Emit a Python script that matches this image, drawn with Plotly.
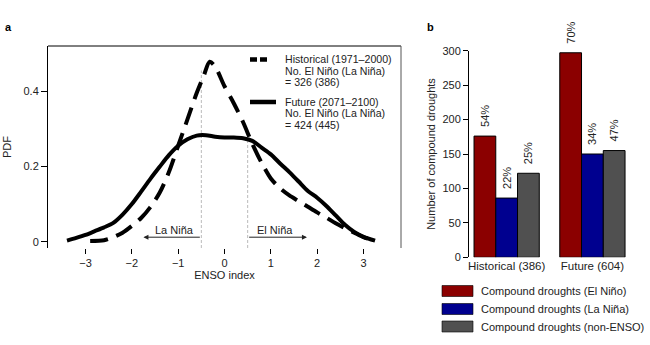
import numpy as np
import plotly.graph_objects as go

# ---------------- data ----------------
hist_x = [-2.9, -2.6, -2.4, -2.2, -2.0, -1.8, -1.6, -1.4, -1.2, -1.0, -0.8, -0.6, -0.45, -0.32,
          -0.2, 0.0, 0.2, 0.4, 0.6, 0.8, 1.0, 1.2, 1.4, 1.6, 1.8, 2.0, 2.2, 2.4, 2.6, 2.8, 3.0, 3.2]
hist_pdf = [0.002, 0.004, 0.012, 0.024, 0.042, 0.063, 0.092, 0.13, 0.185, 0.255, 0.325, 0.395, 0.44, 0.478,
            0.465, 0.413, 0.368, 0.318, 0.26, 0.21, 0.168, 0.142, 0.123, 0.108, 0.093, 0.078, 0.064, 0.049,
            0.036, 0.024, 0.012, 0.005]

fut_x = [-3.4, -3.2, -3.0, -2.8, -2.6, -2.4, -2.2, -2.0, -1.8, -1.6, -1.4, -1.2, -1.0, -0.8, -0.6, -0.4,
         -0.2, 0.0, 0.2, 0.4, 0.6, 0.8, 1.0, 1.2, 1.4, 1.6, 1.8, 2.0, 2.2, 2.4, 2.6, 2.8, 3.0, 3.25]
fut_pdf = [0.003, 0.01, 0.018, 0.028, 0.038, 0.05, 0.072, 0.1, 0.133, 0.167, 0.199, 0.23, 0.255, 0.272,
           0.282, 0.283, 0.279, 0.277, 0.277, 0.275, 0.268, 0.25, 0.232, 0.208, 0.185, 0.16, 0.135, 0.117,
           0.095, 0.07, 0.045, 0.026, 0.013, 0.003]

enso_thresholds = [-0.5, 0.5]
threshold_line_top = [0.455, 0.27]
arrow_ends = [-1.75, 1.78]
arrow_labels = ["La Niña", "El Niña"]

line_legend = [
    ["Historical (1971–2000)", "No. El Niño (La Niña)", "= 326 (386)"],
    ["Future (2071–2100)", "No. El Niño (La Niña)", "= 424 (445)"],
]

bar_categories = ["Historical (386)", "Future (604)"]
bar_series = ["Compound droughts (El Niño)", "Compound droughts (La Niña)", "Compound droughts (non-ENSO)"]
el_nino = [176, 297]
la_nina = [86, 150]
non_enso = [122, 155]
el_nino_pct = ["54%", "70%"]
la_nina_pct = ["22%", "34%"]
non_enso_pct = ["25%", "47%"]
bar_colors = ["#8b0000", "#00008f", "#505050"]

# ---------------- figure ----------------
W, H = 650, 345
FONT = "Liberation Sans, Arial, Helvetica, sans-serif"
TXT = "#222222"

def px(x):
    return x / W

def py(y):
    return 1 - y / H

fig = go.Figure()

# Left panel curves
fig.add_trace(go.Scatter(x=hist_x, y=hist_pdf, mode="lines", xaxis="x", yaxis="y",
                         line=dict(color="black", width=4, dash="18px,9px", shape="spline", smoothing=0.8),
                         showlegend=False, hoverinfo="skip"))
fig.add_trace(go.Scatter(x=fut_x, y=fut_pdf, mode="lines", xaxis="x", yaxis="y",
                         line=dict(color="black", width=4, shape="spline", smoothing=0.8),
                         showlegend=False, hoverinfo="skip"))

# Right panel bars
PAD = "\u00a0\u00a0"
for vals, pct, name, col in zip([el_nino, la_nina, non_enso],
                                [el_nino_pct, la_nina_pct, non_enso_pct],
                                bar_series, bar_colors):
    fig.add_trace(go.Bar(x=[0, 1], y=vals, name=name, xaxis="x2", yaxis="y2",
                         marker=dict(color=col, line=dict(color="black", width=1)),
                         text=[PAD + p for p in pct], textposition="outside", textangle=-90,
                         constraintext="none",
                         textfont=dict(size=11, color=TXT, family=FONT),
                         cliponaxis=False, showlegend=False))

y_left_range = [-0.0167, 0.52]

shapes = []
# box lines for left panel (top and right)
shapes.append(dict(type="line", xref="x domain", yref="y domain", x0=0, x1=1, y0=1, y1=1,
                   line=dict(color="black", width=1)))
shapes.append(dict(type="line", xref="x domain", yref="y domain", x0=1, x1=1, y0=0, y1=1,
                   line=dict(color="#555555", width=1)))
# threshold lines
for xt, top in zip(enso_thresholds, threshold_line_top):
    shapes.append(dict(type="line", xref="x", yref="y", x0=xt, x1=xt, y0=y_left_range[0], y1=top,
                       line=dict(color="#bbbbbb", width=1, dash="3px,2px"), layer="below"))

annotations = []
# arrows and labels
for xt, xe, lab in zip(enso_thresholds, arrow_ends, arrow_labels):
    annotations.append(dict(x=xe, y=0.012, ax=xt, ay=0.012, xref="x", yref="y", axref="x", ayref="y",
                            text="", showarrow=True, arrowhead=2, arrowsize=1, arrowwidth=1,
                            arrowcolor="#222222"))
    annotations.append(dict(x=(xt + xe) / 2 + (0.05 if xt < 0 else -0.06), y=0.031, xref="x", yref="y",
                            text=lab, showarrow=False, font=dict(size=11, color=TXT, family=FONT)))

# left-panel legend (custom)
leg_rows = [[59.5, 71, 82.5], [102, 113.5, 125]]
leg_styles = [dict(dash="7px,3px"), dict(dash="solid")]
for lines, rows, sty in zip(line_legend, leg_rows, leg_styles):
    shapes.append(dict(type="line", xref="paper", yref="paper", x0=px(250), x1=px(276 if sty["dash"] == "solid" else 267),
                       y0=py(rows[0]), y1=py(rows[0]), line=dict(color="black", width=4.5, dash=sty["dash"])))
    for t, r in zip(lines, rows):
        annotations.append(dict(x=px(283), y=py(r), xref="paper", yref="paper", text=t, showarrow=False,
                                xanchor="left", yanchor="middle", font=dict(size=10.6, color=TXT, family=FONT)))

# bar legend (custom)
bar_leg_rows = [291, 309, 326.5]
for name, col, r in zip(bar_series, bar_colors, bar_leg_rows):
    shapes.append(dict(type="rect", xref="paper", yref="paper", x0=px(442), x1=px(473),
                       y0=py(r + 5.5), y1=py(r - 5.5), fillcolor=col, line=dict(color="black", width=0.6)))
    annotations.append(dict(x=px(479), y=py(r), xref="paper", yref="paper", text=name, showarrow=False,
                            xanchor="left", yanchor="middle", font=dict(size=11, color=TXT, family=FONT)))

# panel labels
annotations.append(dict(x=px(3), y=py(27), xref="paper", yref="paper", text="<b>a</b>", showarrow=False,
                        xanchor="left", yanchor="middle", font=dict(size=11, color="black", family=FONT)))
annotations.append(dict(x=px(425), y=py(27), xref="paper", yref="paper", text="<b>b</b>", showarrow=False,
                        xanchor="left", yanchor="middle", font=dict(size=11, color="black", family=FONT)))

tickfont = dict(size=11, color=TXT, family=FONT)

fig.update_layout(
    width=W, height=H,
    margin=dict(l=0, r=0, t=0, b=0, autoexpand=False),
    paper_bgcolor="white", plot_bgcolor="white",
    font=dict(family=FONT, size=11, color=TXT),
    showlegend=False,
    barmode="group", bargap=0.239, bargroupgap=0,
    xaxis=dict(domain=[px(48), px(401)], range=[-3.81, 3.81], tickvals=[-3, -2, -1, 0, 1, 2, 3],
               ticks="outside", ticklen=5, tickcolor="black", showline=False, showgrid=False, zeroline=False,
               tickfont=tickfont, title=dict(text="ENSO index", standoff=3, font=tickfont), anchor="y"),
    yaxis=dict(domain=[py(248), py(46)], range=y_left_range, tickvals=[0, 0.2, 0.4], ticktext=["0", "0.2", "0.4"],
               ticks="outside", ticklen=6, tickcolor="black", showline=True, linecolor="black", linewidth=1,
               showgrid=False, zeroline=False, tickfont=tickfont,
               title=dict(text="PDF", standoff=9, font=tickfont), anchor="x"),
    xaxis2=dict(domain=[px(469), px(631)], range=[-0.439, 1.45], tickvals=[0, 1], ticktext=bar_categories,
                ticks="", showline=False, showgrid=False, zeroline=False,
                tickfont=dict(size=11.5, color=TXT, family=FONT), anchor="y2"),
    yaxis2=dict(domain=[py(257.3), py(50.7)], range=[0, 300], dtick=50,
                ticks="outside", ticklen=5, tickcolor="black", showline=True, linecolor="black", linewidth=1,
                showgrid=False, zeroline=False, tickfont=tickfont,
                title=dict(text="Number of compound droughts", standoff=4, font=tickfont), anchor="x2"),
    shapes=shapes,
    annotations=annotations,
)

fig.write_html("out.html")
